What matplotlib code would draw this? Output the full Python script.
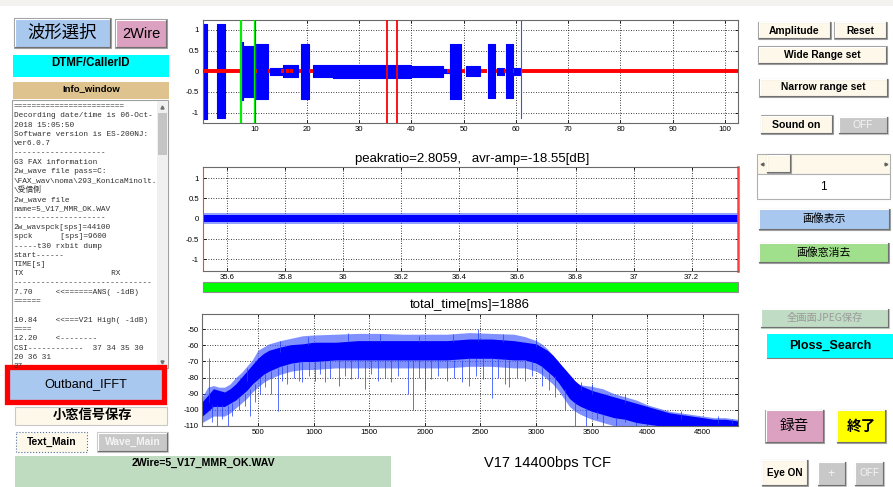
import matplotlib
matplotlib.use('Agg')
import matplotlib.pyplot as plt
from matplotlib.patches import Rectangle

plt.rcParams['axes.unicode_minus'] = False

W, H = 893, 487
GUI = ['Liberation Sans', 'Noto Sans CJK JP']
JP = ['Noto Sans CJK JP', 'DejaVu Sans']
MONO = ['Liberation Mono', 'Noto Sans CJK JP']
TICKF = ['Liberation Sans']

# ---------------- data: top waveform (envelope segments) ----------------
seg_start = [0.0, 2.8, 7.1, 7.7, 10.0, 12.9, 15.5, 18.9, 21.2, 25.0, 40.0, 46.1, 47.4, 50.4, 54.6, 56.3, 58.0, 59.6]
seg_end   = [0.85, 4.35, 7.7, 10.0, 12.6, 15.5, 18.2, 20.3, 25.0, 40.0, 46.1, 47.4, 49.5, 53.2, 56.0, 57.7, 59.4, 60.8]
seg_amp   = [1.15, 1.13, 0.70, 0.62, 0.66, 0.09, 0.14, 0.66, 0.14, 0.16, 0.13, 0.05, 0.66, 0.12, 0.65, 0.08, 0.65, 0.08]
red_start = [0.0, 10.0, 12.5, 15.0, 15.9, 16.8, 18.4, 20.4, 46.8, 49.7, 53.4, 56.1, 57.7, 59.4, 60.9]
red_end   = [7.3, 10.4, 12.9, 15.6, 16.5, 17.3, 18.9, 21.2, 47.4, 50.3, 54.5, 56.4, 58.0, 59.7, 102.4]
green_marks = [7.45, 10.05]
red_marks = [35.3, 37.2]
blue_mark = 61.0
blue_mark_lo, blue_mark_hi = -1.12, 1.22
top_xticks = [10, 20, 30, 40, 50, 60, 70, 80, 90, 100]
top_yticks = [-1, -0.5, 0, 0.5, 1]
top_ylabels = ['-1', '-0.5', '0', '0.5', '1']

# ---------------- data: middle zoomed waveform ----------------
mid_x = [35.515, 37.358]
mid_core = [0.09, 0.09]
mid_outer = [0.14, 0.14]
mid_xticks = [35.6, 35.8, 36.0, 36.2, 36.4, 36.6, 36.8, 37.0, 37.2]
mid_xlabels = ['35.6', '35.8', '36', '36.2', '36.4', '36.6', '36.8', '37', '37.2']
mid_title = 'peakratio=2.8059,   avr-amp=-18.55[dB]'

# ---------------- data: spectrum ----------------
spec_f = [0, 50, 100, 150, 200, 250, 300, 350, 400, 450, 500, 550, 600, 700, 800, 900, 1000, 1200, 1400,
          1600, 1800, 2000, 2200, 2400, 2600, 2800, 2900, 3000, 3050, 3100, 3150, 3200, 3250, 3300, 3350,
          3400, 3500, 3600, 3700, 3800, 3900, 4000, 4100, 4200, 4300, 4400, 4500, 4600, 4700, 4811]
core_hi = [-95, -91, -87, -88, -89, -87, -84, -80, -76, -72, -68, -65, -63, -61, -59.5, -59, -58, -58, -57,
           -57, -57, -57, -57, -56, -56, -57, -58, -59, -61, -63, -66, -70, -74, -78, -82,
           -85, -88, -90, -92, -94, -96, -98, -100, -102, -103, -104, -105, -106, -106, -107]
core_lo = [-104, -101, -98, -98, -98, -96, -94, -91, -88, -84, -81, -78, -76, -73, -71, -70, -70, -69, -69,
           -69, -69, -69, -69, -68, -68, -69, -69, -71, -73, -76, -79, -83, -88, -93, -96,
           -98, -101, -103, -105, -106, -108, -109, -110, -110, -110, -110, -110, -110, -110, -110]
outer_hi = [-92, -86, -85, -86, -86, -84, -80, -77, -73, -69, -63, -61, -59, -57, -55.5, -54, -53.5, -53, -52.5,
            -52.5, -53, -53, -53, -52, -52.5, -53, -54.5, -57, -59, -62, -66, -70, -75, -80, -83,
            -84.5, -85.5, -87, -90, -92, -94, -97, -99, -101, -102, -103, -104, -105, -105, -106]
outer_lo = [-108, -106, -104, -104, -104, -102, -99, -96, -93, -89, -86, -83, -81, -78, -76, -75, -75, -74, -74,
            -74, -74, -74, -74, -73, -73, -74, -74, -76, -78, -81, -84, -88, -93, -98, -101,
            -103, -106, -108, -110, -110, -110, -110, -110, -110, -110, -110, -110, -110, -110, -110]
spike_dn_f = [90, 130, 180, 230, 270, 330, 380, 430, 470, 520, 560, 620, 680, 720, 760, 820, 870, 900, 960,
              1010, 1060, 1100, 1150, 1230, 1280, 1340, 1400, 1460, 1520, 1580, 1640, 1700, 1760, 1850,
              1890, 1950, 2000, 2060, 2120, 2200, 2260, 2330, 2400, 2460, 2520, 2600, 2660, 2720, 2760,
              2830, 2900, 2960, 3050, 3120, 3170, 3260, 3350, 3450, 3550, 3600, 3720, 3800, 3900, 4000, 4150]
spike_dn_lo = [-108, -110, -106, -110, -104, -100, -98, -104, -95, -90, -86, -90, -101, -82, -84, -80, -82, -83, -79,
               -82, -78, -83, -80, -85, -79, -81, -80, -87, -78, -82, -80, -83, -79, -90,
               -100, -80, -88, -81, -79, -82, -80, -83, -85, -79, -81, -93, -80, -84, -86,
               -80, -82, -79, -85, -88, -92, -100, -110, -110, -106, -110, -110, -108, -110, -110, -110]
spike_dn_top = [-97, -97, -97, -97, -96, -93, -90, -87, -84, -80, -78, -76, -74, -73, -72, -71, -70, -70, -70,
                -70, -70, -70, -69, -69, -69, -69, -69, -69, -69, -69, -69, -69, -69, -69,
                -69, -69, -69, -69, -69, -69, -69, -69, -68, -68, -68, -68, -68, -68, -69,
                -69, -69, -70, -73, -77, -79, -87, -95, -99, -101, -103, -105, -106, -108, -109, -110]
spike_up_f = [60, 400, 700, 950, 1310, 1600, 1950, 2250, 2480, 2700, 3000, 3400, 3500, 3800, 4300, 4640, 4760]
spike_up_hi = [-68, -74, -57, -55, -52, -53, -54, -53, -50, -53, -56, -83, -84, -90, -101, -104, -106]
spike_up_lo = [-95, -82, -64, -60, -58, -58, -58, -58, -57, -58, -61, -88, -90, -96, -106, -109, -109]
spec_xticks = [500, 1000, 1500, 2000, 2500, 3000, 3500, 4000, 4500]
spec_yticks = [-110, -100, -90, -80, -70, -60, -50]
spec_title = 'total_time[ms]=1886'

info_lines = [
    "========================",
    "Decording date/time is 06-Oct-",
    "2018 15:05:50",
    "Software version is ES-200NJ:",
    "ver6.0.7",
    "--------------------",
    "G3 FAX information",
    "2w_wave file pass=C:",
    "\\FAX_wav\\noma\\293_KonicaMinolt.",
    "\\受信側",
    "2w_wave file",
    "name=5_V17_MMR_OK.WAV",
    "--------------------",
    "2w_wavspck[sps]=44100",
    "spck      [sps]=9600",
    "-----t30 rxbit dump",
    "start------",
    "TIME[s]",
    "TX                   RX",
    "------------------------------",
    "7.70     <<======ANS( -1dB)",
    "======",
    "",
    "10.84    <<===V21 High( -1dB)",
    "====",
    "12.20    <--------",
    "CSI------------  37 34 35 30",
    "20 36 31",
    "37",
]

# ---------------- figure ----------------
fig = plt.figure(figsize=(W / 100, H / 100), dpi=100)
fig.patch.set_facecolor('white')
ov = fig.add_axes([0, 0, 1, 1])
ov.set_xlim(0, W)
ov.set_ylim(H, 0)
ov.axis('off')


def box(x0, y0, x1, y1, face, edge='#a0a0a0', lw=0.8, ls='-', bevel=True, z=1):
    ov.add_patch(Rectangle((x0, y0), x1 - x0, y1 - y0, facecolor=face, edgecolor=edge,
                           lw=lw, ls=ls, zorder=z))
    if bevel:
        ov.plot([x0 + 0.8, x0 + 0.8, x1 - 0.8], [y1 - 0.8, y0 + 0.8, y0 + 0.8], color='white', lw=0.8, zorder=z + 0.1)
        ov.plot([x0 + 0.8, x1 - 0.8, x1 - 0.8], [y1 - 0.8, y1 - 0.8, y0 + 0.8], color='#707070', lw=0.8, zorder=z + 0.1)


def label(x, y, s, fs, color='black', weight='normal', family=GUI, ha='center', z=3):
    return ov.text(x, y, s, fontsize=fs, color=color, fontweight=weight, family=family,
                   ha=ha, va='center', zorder=z)


# top strip
ov.add_patch(Rectangle((0, 0), W, 5.5, facecolor='#f3f2ee', edgecolor='none', zorder=0))

# ---- left panel
box(14, 18, 111, 48, '#a8c8ee')
label(62.5, 33, '波形選択', 12.5, family=JP)
box(115, 19, 167, 48, '#dca0c0')
label(141, 33.5, '2Wire', 10.5)
box(13, 55, 169, 77, '#00ffff', edge='none', bevel=False)
label(91, 62.5, 'DTMF/CallerID', 8.3, weight='bold')
box(13, 82, 169, 99, '#dfc38e', edge='none', bevel=False)
label(91, 88.5, 'Info_window', 6.8, weight='bold')

# info text box
box(12, 100, 168, 368, 'white', edge='#a0a0a0', bevel=False)
box(157, 101, 167.5, 367, '#f0f0f0', edge='none', bevel=False)
box(158, 113, 166.5, 155, '#c4c4c4', edge='none', bevel=False)
ov.plot([162.2], [107], marker='^', ms=2.2, color='#707070', zorder=3)
ov.plot([162.2], [362], marker='v', ms=2.2, color='#707070', zorder=3)
clip = Rectangle((12, 100), 145, 268, transform=ov.transData)
for i, s in enumerate(info_lines):
    t = ov.text(13.5, 106.5 + 9.3 * i, s, fontsize=5.6, family=MONO, color='#303030',
                ha='left', va='center', zorder=3)
    t.set_clip_path(clip)

# Outband_IFFT with red frame
ov.add_patch(Rectangle((7, 366.5), 157, 35, facecolor='#a8c8f0', edgecolor='#ff0000', lw=3.8, zorder=2))
label(86, 384.5, 'Outband_IFFT', 9.2)
box(15, 407, 167, 425, '#fdf8ea', edge='#c8c8c8', bevel=False)
label(92, 414.5, '小窓信号保存', 9.5, family=JP, weight='bold')
box(16, 432, 87, 452, '#fdf8ea', edge='#5070a0', ls=':', lw=0.8, bevel=False)
label(51.5, 442, 'Text_Main', 7.4, weight='bold')
box(97, 432, 168, 452, '#c8c8c8', edge='#c8c8c8')
label(132.5, 442, 'Wave_Main', 7.4, color='#f4f4f4', weight='bold')
box(15, 456, 391, 490, '#c0dcc0', edge='none', bevel=False)
label(203, 462.5, '2Wire=5_V17_MMR_OK.WAV', 7.6, weight='bold')
label(547, 463, 'V17 14400bps TCF', 10.5)

# ---- right panel
box(758, 21.5, 830.5, 39, '#fdf8ea')
label(794, 30.5, 'Amplitude', 7.4, weight='bold')
box(834, 21.5, 886.5, 39, '#fdf8ea')
label(860, 30.5, 'Reset', 7.4, weight='bold')
box(758, 46, 886.5, 64, '#fdf8ea')
label(822, 55, 'Wide Range set', 7.4, weight='bold')
box(759, 78.5, 888, 96.5, '#fdf8ea')
label(823, 87.5, 'Narrow range set', 7.4, weight='bold')
box(760.5, 115, 832.5, 133.5, '#fdf8ea')
label(796.5, 124.5, 'Sound on', 7.6, weight='bold')
box(838.5, 116.5, 887.5, 133.5, '#c8c8c8', edge='#c8c8c8')
label(863, 125, 'OFF', 7.4, color='#f4f4f4')
# slider
box(757, 153.5, 890, 173.5, '#fdf8ea', edge='#b0b0b0', bevel=False)
box(766.5, 154, 791, 173, '#fdf8ea', edge='#a0a0a0')
ov.plot([761.5], [163.5], marker='<', ms=2, color='#606060', zorder=3)
ov.plot([885.5], [163.5], marker='>', ms=2, color='#606060', zorder=3)
box(757, 174, 890, 199, 'white', edge='#b0b0b0', bevel=False)
label(823.5, 186.5, '1', 8.5)
box(758.5, 208.5, 890, 230, '#a8c8f0')
label(824, 219, '画像表示', 7.8, family=JP)
box(758.5, 242.5, 888.5, 262.5, '#a0e08c')
label(823.5, 252.5, '画像窓消去', 7.8, family=JP)
box(760.5, 308.5, 888.5, 327.5, '#c0dcc4', edge='#b8d0bc')
label(824.5, 318, '全画面JPEG保存', 7.4, color='#9a9a9a', family=JP)
box(767, 333.5, 893, 357.5, '#00ffff', edge='none', bevel=False)
ov.plot([767, 893], [357.5, 357.5], color='#808080', lw=0.8, zorder=2)
label(830, 345.5, 'Ploss_Search', 9, weight='bold')
box(765, 409.5, 823.5, 442.5, '#dca0c0')
label(794, 426, '録音', 10.5, family=JP)
box(836.5, 409.5, 886, 442.5, '#ffff00')
label(861, 426, '終了', 10.5, family=JP, weight='bold')
box(761.5, 459.5, 807.5, 486, '#fdf8ea', edge='#a0a0a0')
label(784.5, 472.5, 'Eye ON', 7.2, weight='bold')
box(817.5, 461.5, 846, 486, '#c8c8c8', edge='#c8c8c8')
label(831.5, 473.5, '+', 9, color='#f4f4f4')
box(854.5, 461.5, 884, 486, '#c8c8c8', edge='#c8c8c8')
label(869, 473.5, 'OFF', 7.2, color='#f4f4f4')


# ---------------- plotting axes ----------------
def px_axes(x0, y0, x1, y1):
    return fig.add_axes([x0 / W, 1 - y1 / H, (x1 - x0) / W, (y1 - y0) / H])


def style(ax):
    ax.set_facecolor('white')
    ax.tick_params(direction='in', length=2.5, width=0.6, labelsize=5.6, pad=2.5,
                   top=True, right=True)
    for lab in ax.get_xticklabels() + ax.get_yticklabels():
        lab.set_family(TICKF)
    ax.grid(True, color='black', linestyle=(0, (1, 2)), lw=0.6)
    ax.set_axisbelow(True)
    for s in ax.spines.values():
        s.set_color('#6a6a6a')
        s.set_linewidth(0.8)


# top waveform
ax1 = px_axes(202.5, 19.5, 737.5, 123)
ax1.set_xlim(0, 102.4)
ax1.set_ylim(-1.25, 1.25)
for s, e, a in zip(seg_start, seg_end, seg_amp):
    ax1.fill_between([s, e], [-a, -a], [a, a], color='#0000ff', lw=0.8, edgecolor='#0000ff', zorder=2)
for s, e in zip(red_start, red_end):
    ax1.plot([s, e], [0, 0], color='#ff0000', lw=2.8, solid_capstyle='butt', zorder=3)
for g in green_marks:
    ax1.axvline(g, color='#00ee00', lw=1.6, zorder=4)
ax1.axvline(green_marks[1], color='#006000', lw=0.5, zorder=4)
for r in red_marks:
    ax1.axvline(r, color='#ff0000', lw=1.3, zorder=4)
ax1.plot([blue_mark, blue_mark], [blue_mark_lo, blue_mark_hi], color='#3050ff', lw=0.8, zorder=4)
ax1.set_xticks(top_xticks)
ax1.set_yticks(top_yticks)
ax1.set_yticklabels(top_ylabels)
style(ax1)

# middle waveform
ax2 = px_axes(202.5, 167, 737.5, 270.5)
ax2.set_xlim(mid_x[0], mid_x[1])
ax2.set_ylim(-1.27, 1.27)
ax2.fill_between(mid_x, [-v for v in mid_outer], mid_outer, color='#3a55ff', alpha=0.55, lw=0, zorder=2)
ax2.fill_between(mid_x, [-v for v in mid_core], mid_core, color='#0000ff', lw=0, zorder=2)
ax2.set_xticks(mid_xticks)
ax2.set_xticklabels(mid_xlabels)
ax2.set_yticks(top_yticks)
ax2.set_yticklabels(top_ylabels)
style(ax2)
ax2.spines['left'].set_color('#ff4040')
ax2.spines['right'].set_color('#ff4040')
ax2.spines['right'].set_linewidth(1.8)
ov.text(472, 159, mid_title, fontsize=9.5, family=GUI, ha='center', va='center')

# green progress bar
ov.add_patch(Rectangle((202.5, 281.5), 535, 10, facecolor='#00ff00', edgecolor='#909090', lw=0.8, zorder=2))

# spectrum
ax3 = px_axes(202.3, 314.3, 737.5, 425.7)
ax3.set_xlim(0, 4811)
ax3.set_ylim(-110, -40.6)
ax3.fill_between(spec_f, outer_lo, outer_hi, color='#4a62ff', alpha=0.7, lw=0, zorder=2)
ax3.fill_between(spec_f, core_lo, core_hi, color='#0000ff', lw=0, zorder=2)
ax3.vlines(spike_dn_f, spike_dn_lo, spike_dn_top, color='#2040ff', lw=0.7, alpha=0.75, zorder=2)
ax3.vlines(spike_up_f, spike_up_lo, spike_up_hi, color='#2040ff', lw=0.7, alpha=0.75, zorder=2)
ax3.set_xticks(spec_xticks)
ax3.set_yticks(spec_yticks)
style(ax3)
ov.text(470, 305, spec_title, fontsize=9.5, family=GUI, ha='center', va='center')

fig.savefig('out.png', dpi=100)
